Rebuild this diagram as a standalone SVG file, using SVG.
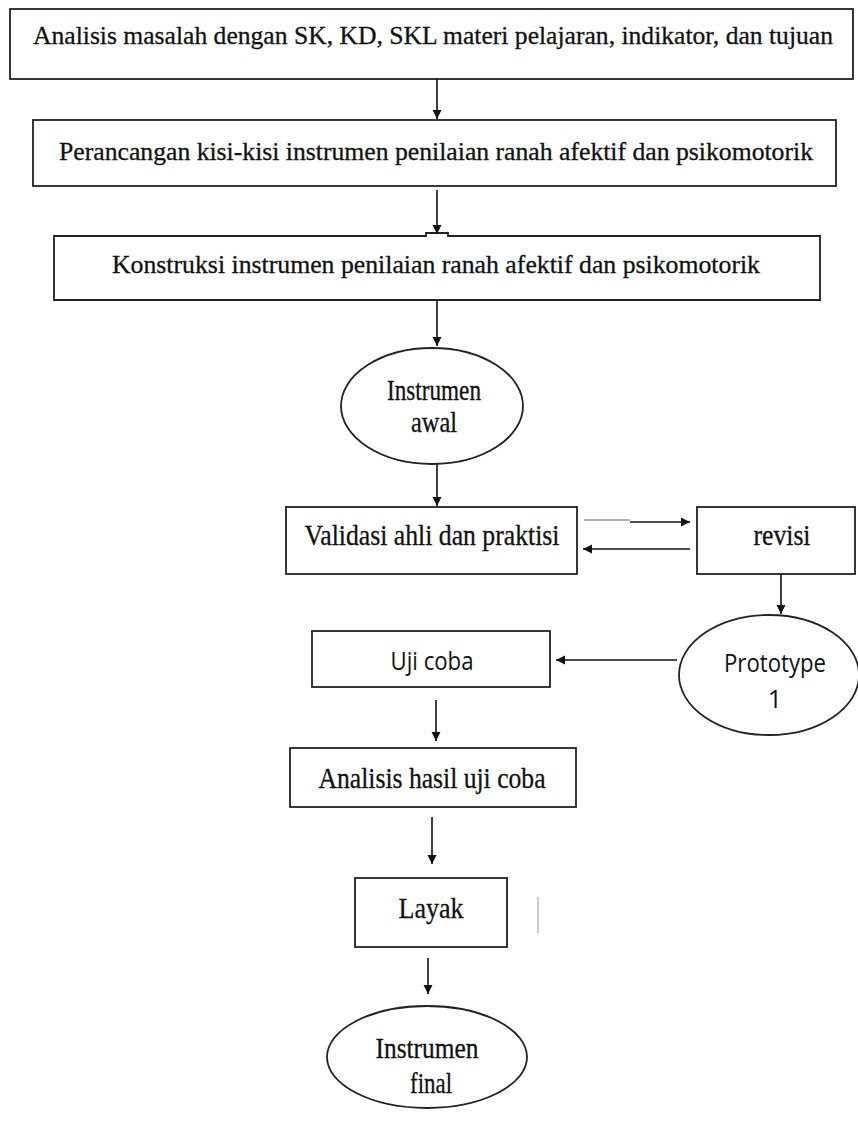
<svg xmlns="http://www.w3.org/2000/svg" width="858" height="1122" viewBox="0 0 858 1122">
<defs>
<marker id="ah" markerWidth="10" markerHeight="10" refX="9" refY="5" orient="auto" markerUnits="userSpaceOnUse">
<path d="M0,0.5 L9,5 L0,9.5 Z" fill="#111"/>
</marker>
<style>
.box{fill:#fff;stroke:#222;stroke-width:1.8}
.t{font-family:"Liberation Serif","Times New Roman",serif;font-size:26px;fill:#111;stroke:#111;stroke-width:0.3;text-anchor:middle}
.b{font-size:30px}
.s{font-family:"Open Sans","Liberation Sans",Arial,sans-serif;font-size:25px;fill:#111;text-anchor:middle}
.c{stroke:#111;stroke-width:1.6;fill:none}
</style>
</defs>
<rect width="858" height="1122" fill="#fff"/>
<g id="n1">
<rect class="box" x="10" y="9" width="843" height="70"/>
<text class="t" x="433" y="44" textLength="800" lengthAdjust="spacingAndGlyphs">Analisis masalah dengan SK, KD, SKL materi pelajaran, indikator, dan tujuan</text>
</g>
<g id="n2">
<rect class="box" x="33" y="120" width="803" height="66"/>
<text class="t" x="436" y="160" textLength="754" lengthAdjust="spacingAndGlyphs">Perancangan kisi-kisi  instrumen penilaian ranah afektif dan psikomotorik</text>
</g>
<g id="n3">
<path class="box" d="M54,236 H426 V233 H448 V236 H820 V300 H54 Z"/>
<text class="t" x="436" y="273" textLength="648" lengthAdjust="spacingAndGlyphs">Konstruksi  instrumen penilaian ranah afektif dan psikomotorik</text>
</g>
<g id="n4">
<ellipse class="box" cx="432" cy="406" rx="91" ry="58"/>
<text class="t b" x="434" y="400" textLength="94" lengthAdjust="spacingAndGlyphs">Instrumen</text>
<text class="t b" x="434" y="432" textLength="46" lengthAdjust="spacingAndGlyphs">awal</text>
</g>
<g id="n5">
<rect class="box" x="286" y="507" width="291" height="67"/>
<text class="t b" x="432" y="545" textLength="255" lengthAdjust="spacingAndGlyphs">Validasi ahli dan praktisi</text>
</g>
<g id="n6">
<rect class="box" x="697" y="507" width="158" height="67"/>
<text class="t b" x="782" y="545" textLength="57" lengthAdjust="spacingAndGlyphs">revisi</text>
</g>
<g id="n7">
<ellipse class="box" cx="769" cy="675" rx="90" ry="60"/>
<text class="s" x="775" y="672" textLength="102" lengthAdjust="spacingAndGlyphs">Prototype</text>
<text class="s" x="775" y="708">1</text>
</g>
<g id="n8">
<rect class="box" x="312" y="631" width="238" height="56"/>
<text class="s" x="432" y="670" textLength="83" lengthAdjust="spacingAndGlyphs">Uji coba</text>
</g>
<g id="n9">
<rect class="box" x="290" y="748" width="286" height="59"/>
<text class="t b" x="432" y="788" textLength="227" lengthAdjust="spacingAndGlyphs">Analisis hasil uji coba</text>
</g>
<g id="n10">
<rect class="box" x="355" y="878" width="152" height="69"/>
<text class="t b" x="431" y="918" textLength="65" lengthAdjust="spacingAndGlyphs">Layak</text>
</g>
<g id="n11">
<ellipse class="box" cx="427" cy="1057" rx="100" ry="51"/>
<text class="t b" x="427" y="1058" textLength="103" lengthAdjust="spacingAndGlyphs">Instrumen</text>
<text class="t b" x="431" y="1093" textLength="42" lengthAdjust="spacingAndGlyphs">final</text>
</g>
<g id="connectors">
<line class="c" x1="437" y1="79" x2="437" y2="119" marker-end="url(#ah)"/>
<line class="c" x1="437" y1="190" x2="437" y2="234" marker-end="url(#ah)"/>
<line class="c" x1="437" y1="300" x2="437" y2="346" marker-end="url(#ah)"/>
<line class="c" x1="437" y1="464" x2="437" y2="506" marker-end="url(#ah)"/>
<line x1="584" y1="520" x2="630" y2="520" stroke="#999" stroke-width="1.6"/>
<line class="c" x1="630" y1="522" x2="690" y2="522" marker-end="url(#ah)"/>
<line class="c" x1="690" y1="549" x2="583" y2="549" marker-end="url(#ah)"/>
<line class="c" x1="781" y1="574" x2="781" y2="614" marker-end="url(#ah)"/>
<line class="c" x1="677" y1="660" x2="556" y2="660" marker-end="url(#ah)"/>
<line class="c" x1="436" y1="700" x2="436" y2="741" marker-end="url(#ah)"/>
<line class="c" x1="432" y1="817" x2="432" y2="864" marker-end="url(#ah)"/>
<line class="c" x1="428" y1="958" x2="428" y2="994" marker-end="url(#ah)"/>
<line x1="538" y1="897" x2="538" y2="933" stroke="#aaa" stroke-width="1.2"/>
</g>
</svg>
